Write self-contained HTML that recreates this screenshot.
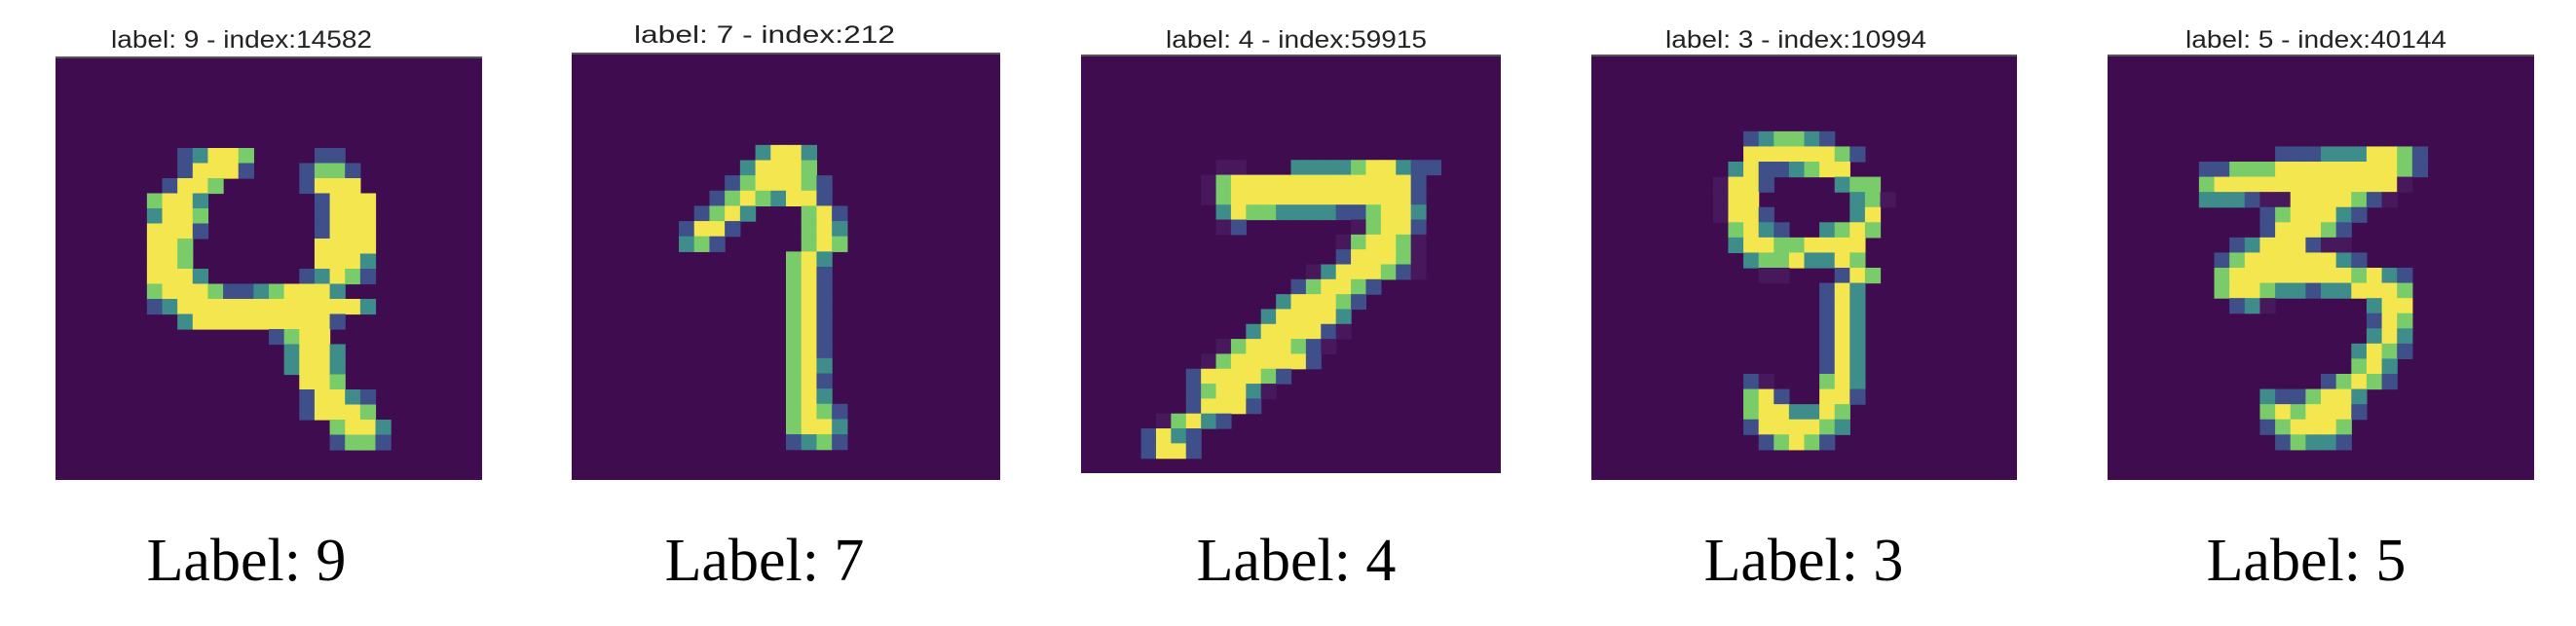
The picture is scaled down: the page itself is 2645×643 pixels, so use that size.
<!DOCTYPE html>
<html><head><meta charset="utf-8"><style>
html,body{margin:0;padding:0;background:#fff;}
svg{display:block;}
</style></head><body>
<svg id="fig" width="2645" height="643" viewBox="0 0 2645 643" xmlns="http://www.w3.org/2000/svg"></svg>
<script>
// Data: sparse rows [row, startCol, levels] ; '.'=0, 'f'=faint, '1'..'4' viridis levels
const titles = ["label: 9 - index:14582","label: 7 - index:212","label: 4 - index:59915","label: 3 - index:10994","label: 5 - index:40144"];
const captions = ["Label: 9","Label: 7","Label: 4","Label: 3","Label: 5"];
const digit0 = [[6,8,"12443....11"],[7,8,"14441...1331"],[8,7,"1443.....1444"],[9,6,"3442.......1444"],[10,6,"2443.......1444"],[11,6,"4441.......1444"],[12,6,"443........4444"],[13,6,"443........4442"],[14,6,"4442......12431"],[15,6,"3444311234442"],[16,6,"124444444444442"],[17,8,"24444444441"],[18,14,"1344"],[19,15,"2442"],[20,15,"2442"],[21,16,"443"],[22,16,"14421"],[23,16,"14443"],[24,18,"3442"],[25,18,"1331"]];
const digit1 = [[6,12,"2442"],[7,11,"24443"],[8,10,"1344431"],[9,9,"13432441"],[10,8,"1342...341"],[11,7,"1441....342"],[12,7,"231.....343"],[13,14,"342"],[14,14,"341"],[15,14,"341"],[16,14,"341"],[17,14,"341"],[18,14,"341"],[19,14,"341"],[20,14,"342"],[21,14,"341"],[22,14,"342"],[23,14,"3431"],[24,14,"3442"],[25,14,"1231"]];
const digit2 = [[7,9,"ff...2222344211"],[8,8,"f34444444444441"],[9,8,"f34444444444441"],[10,9,"24332222113442"],[11,9,"f1.......f3441"],[12,17,"f3443f"],[13,17,"14443f"],[14,15,"f244431f"],[15,14,"134431"],[16,13,"244431"],[17,12,"244442"],[18,11,"244441f"],[19,9,"f344431f"],[20,8,"f3444441"],[21,7,"1444431"],[22,7,"13442f"],[23,7,"14441"],[24,5,"f3421"],[25,4,"1421"],[26,4,"1441"]];
const digit3 = [[5,10,"123321"],[6,10,"44444431"],[7,9,"24112344"],[8,8,"f441....233"],[9,8,"f44......23f"],[10,8,"f441.....24"],[11,9,"3421..2343"],[12,9,"244334444"],[13,10,"23342243"],[14,11,"ff...143"],[15,15,"142"],[16,15,"142"],[17,15,"142"],[18,15,"142"],[19,15,"142"],[20,15,"142"],[21,10,"1f...342"],[22,10,"341..441"],[23,10,"3442243"],[24,10,"1444432"],[25,11,"13431"]];
const digit4 = [[6,11,"1112224431"],[7,6,"113334444444431"],[8,6,"3444444444444f"],[9,6,"2221ff444431f"],[10,10,"1344421"],[11,10,"144431"],[12,8,"124441ff"],[13,7,"1344444421"],[14,7,"3444444443421"],[15,7,"3443221224443"],[16,8,"12f......244"],[17,17,"143"],[18,17,"242"],[19,16,"2431"],[20,16,"342"],[21,14,"13431"],[22,10,"2113442"],[23,10,"3434441"],[24,10,"134443"],[25,11,"13221"]];
const digits = [digit0, digit1, digit2, digit3, digit4];

const panels = [{x:57,y:59,w:438,h:434,tx:248,ty:49,cx:253},{x:587,y:55,w:440,h:438,tx:785,ty:44,cx:785},{x:1110,y:57,w:431,h:429,tx:1331,ty:49,cx:1331},{x:1634,y:57,w:437,h:436,tx:1844,ty:49,cx:1852},{x:2164,y:57,w:438,h:436,tx:2378,ty:49,cx:2368}];
const colors = {'f':'#48185c','1':'#3e4f8a','2':'#3f8d8a','3':'#7acb6a','4':'#f3e64e'};
const NS = "http://www.w3.org/2000/svg";
const svg = document.getElementById('fig');
function mk(tag, attrs){const e=document.createElementNS(NS,tag);for(const k in attrs)e.setAttribute(k,attrs[k]);return e;}
panels.forEach((p,i)=>{
  const g = mk('g',{});
  
  
  svg.appendChild(g);
  const bg = mk('rect',{x:p.x,y:p.y,width:p.w,height:p.h,fill:'#3f0c4f'});
  
  
  g.appendChild(bg);
  const edge = mk('rect',{x:p.x,y:p.y-1,width:p.w,height:2,fill:'#555'});
  
  
  g.appendChild(edge);
  const cw = p.w/28, ch = p.h/28;
  digits[i].forEach(r=>{
    const row=r[0], c0=r[1], s=r[2];
    for(let k=0;k<s.length;k++){
      const v=s[k]; if(v==='.') continue;
      const cell = mk('rect',{x:(p.x+(c0+k)*cw).toFixed(2),y:(p.y+row*ch).toFixed(2),width:(cw+0.6).toFixed(2),height:(ch+0.6).toFixed(2),fill:colors[v]});
      
      
      g.appendChild(cell);
    }
  });
  const t = mk('text',{x:p.tx,y:p.ty,'text-anchor':'middle','font-family':'Liberation Sans, sans-serif','font-size':'25',fill:'#222',textLength:'268',lengthAdjust:'spacingAndGlyphs'});
  t.textContent = titles[i];
  
  
  g.appendChild(t);
  const c = mk('text',{x:p.cx,y:596,'text-anchor':'middle','font-family':'Liberation Serif, serif','font-size':'62',fill:'#000'});
  c.textContent = captions[i];
  
  
  g.appendChild(c);
});
</script>
</body></html>
